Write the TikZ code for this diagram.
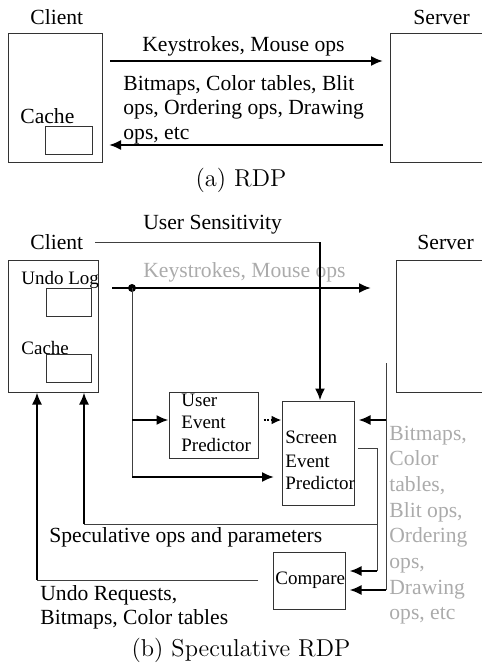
\documentclass[tikz,border=0pt]{standalone}
\usepackage{fontspec}
\newfontfamily\timesfont{Liberation Serif}
\usetikzlibrary{arrows.meta}
\usetikzlibrary{fit}
\usetikzlibrary{positioning}

\tikzset{
  boxRect/.style 2 args={
    draw=black!80, line width=0.5pt,
    rectangle,
    fit={(#1) (#2)},
    inner sep=0pt
  }
}

\begin{document}
\begin{tikzpicture}[
  x=0.5pt, y=-0.5pt,
  txtNode/.style={font=\timesfont\fontsize{10.8}{13}\selectfont, inner sep=0pt, anchor=base west},
  smallTxt/.style={txtNode, font=\timesfont\fontsize{9.5}{11}\selectfont},
  greyTxt/.style={txtNode, text=black!33},
  captionNode/.style={font=\fontsize{12.2}{14}\selectfont, inner sep=0pt, anchor=base},
  thickArrow/.style={draw=black, line width=1pt, -{Latex[length=6pt,width=5pt]}},
  thinLine/.style={draw=black!75, line width=0.5pt},
  dotArrow/.style={draw=black, line width=1pt, dash pattern=on 1pt off 0.8pt, -{Latex[length=5pt,width=4.5pt]}},
  splitDot/.style={circle, fill=black, inner sep=0pt, minimum size=4pt},
]
\useasboundingbox (0,0) rectangle (482,670);

% --- (a) RDP ---
\node[txtNode] (clientA) at (30,24) {Client};
\node[txtNode] (serverA) at (413,24) {Server};
\node[boxRect={8,33}{102,162}] (clientBoxA) {};
\node[boxRect={390,33}{484,162}] (serverBoxA) {};
\node[txtNode] (cacheTxtA) at (20,123) {Cache};
\node[boxRect={45,126}{92,154}] (cacheBoxA) {};

\node[txtNode] (keysA) at (142,51) {Keystrokes, Mouse ops};
\node[txtNode] (opsA1) at (123,90) {Bitmaps, Color tables, Blit};
\node[txtNode] (opsA2) at (123,114) {ops, Ordering ops, Drawing};
\node[txtNode] (opsA3) at (123,139) {ops, etc};

\coordinate (keyFromA) at (110,61);
\coordinate (keyToA) at (383,61);
\coordinate (opsFromA) at (383,145);
\coordinate (opsToA) at (109,145);
\draw[thickArrow] (keyFromA) -- (keyToA);
\draw[thickArrow] (opsFromA) -- (opsToA);

\node[captionNode] (capA) at (241,186) {(a) RDP};

% --- (b) Speculative RDP ---
\node[txtNode] (clientB) at (30,249) {Client};
\node[txtNode] (serverB) at (417,249) {Server};
\node[txtNode] (userSens) at (143,229) {User Sensitivity};
\node[greyTxt] (keysB) at (143,277) {Keystrokes, Mouse ops};

\node[boxRect={8,260}{98,392}] (clientBoxB) {};
\node[boxRect={396,260}{484,392}] (serverBoxB) {};
\node[smallTxt] (undoTxt) at (21,284) {Undo Log};
\node[boxRect={46,288}{91,316}] (undoBox) {};
\node[smallTxt] (cacheTxtB) at (21,354) {Cache};
\node[boxRect={46,354}{91,382}] (cacheBoxB) {};

\node[boxRect={169,392}{258,458}] (uepBox) {};
\node[smallTxt] (uep1) at (181,406) {User};
\node[smallTxt] (uep2) at (181,428) {Event};
\node[smallTxt] (uep3) at (181,451) {Predictor};

\node[boxRect={282,401}{354,505}] (sepBox) {};
\node[smallTxt] (sep1) at (285,443) {Screen};
\node[smallTxt] (sep2) at (285,467) {Event};
\node[smallTxt] (sep3) at (285,489) {Predictor};

\node[boxRect={273,552}{345,609}] (cmpBox) {};
\node[smallTxt] (cmpTxt) at (275,584) {Compare};

\node[txtNode] (specTxt) at (49,542) {Speculative ops and parameters};
\node[txtNode] (undoReq1) at (40,600) {Undo Requests,};
\node[txtNode] (undoReq2) at (40,624) {Bitmaps, Color tables};

\foreach \ln [count=\i] in {{Bitmaps,},{Color},{tables,},{Blit ops,},{Ordering},{ops,},{Drawing},{ops, etc}} {
  \node[greyTxt] (srvOps\i) at (389,{440+25.7*(\i-1)}) {\ln};
}

% user sensitivity
\coordinate (sensFrom) at (95,242);
\coordinate (sensCorner) at (320,242);
\draw[thinLine] (sensFrom) -- (sensCorner);
\draw[thickArrow] (sensCorner) -- (sensCorner |- sepBox.north);

% keystrokes to server
\coordinate (keyFromB) at (112,288);
\coordinate (keyToB) at (371,288);
\draw[thickArrow] (keyFromB) -- (keyToB);
\node[splitDot] (split) at (132,288) {};

\coordinate (dropA) at (132,420);
\coordinate (dropB) at (132,477);
\coordinate (sepIn) at (274,477);
\draw[thinLine] (split.center) -- (dropB);
\draw[thickArrow] (dropA) -- (dropA -| uepBox.west);
\draw[thickArrow] (dropB) -- (sepIn);
\draw[dotArrow] (uepBox.east |- dropA) ++(5,0) -- (sepBox.west |- dropA);

% server output
\coordinate (srvTop) at (386,363);
\coordinate (srvTap) at (386,420);
\coordinate (srvLow) at (386,590);
\draw[thinLine] (srvTop) -- (srvLow);
\draw[thickArrow, shorten >=2pt] (srvTap) -- (srvTap -| sepBox.east);
\draw[thickArrow, shorten >=2pt] (srvLow) -- (srvLow -| cmpBox.east);

% speculative ops
\coordinate (sepOut) at (358,448);
\coordinate (specCorner) at (377,448);
\coordinate (specTap) at (377,524);
\coordinate (cmpIn) at (377,571);
\coordinate (specLeft) at (84,524);
\draw[thinLine] (sepOut) -- (specCorner) -- (cmpIn);
\draw[thickArrow, shorten >=2pt] (cmpIn) -- (cmpIn -| cmpBox.east);
\draw[thinLine] (specTap) -- (specLeft);
\draw[thickArrow] (specLeft) -- (specLeft |- clientBoxB.south);

% undo requests
\coordinate (undoFrom) at (258,580);
\coordinate (undoCorner) at (37,580);
\draw[thinLine] (undoFrom) -- (undoCorner);
\draw[thickArrow] (undoCorner) -- (undoCorner |- clientBoxB.south);

\node[captionNode] (capB) at (241,656) {(b) Speculative RDP};

\end{tikzpicture}
\end{document}
